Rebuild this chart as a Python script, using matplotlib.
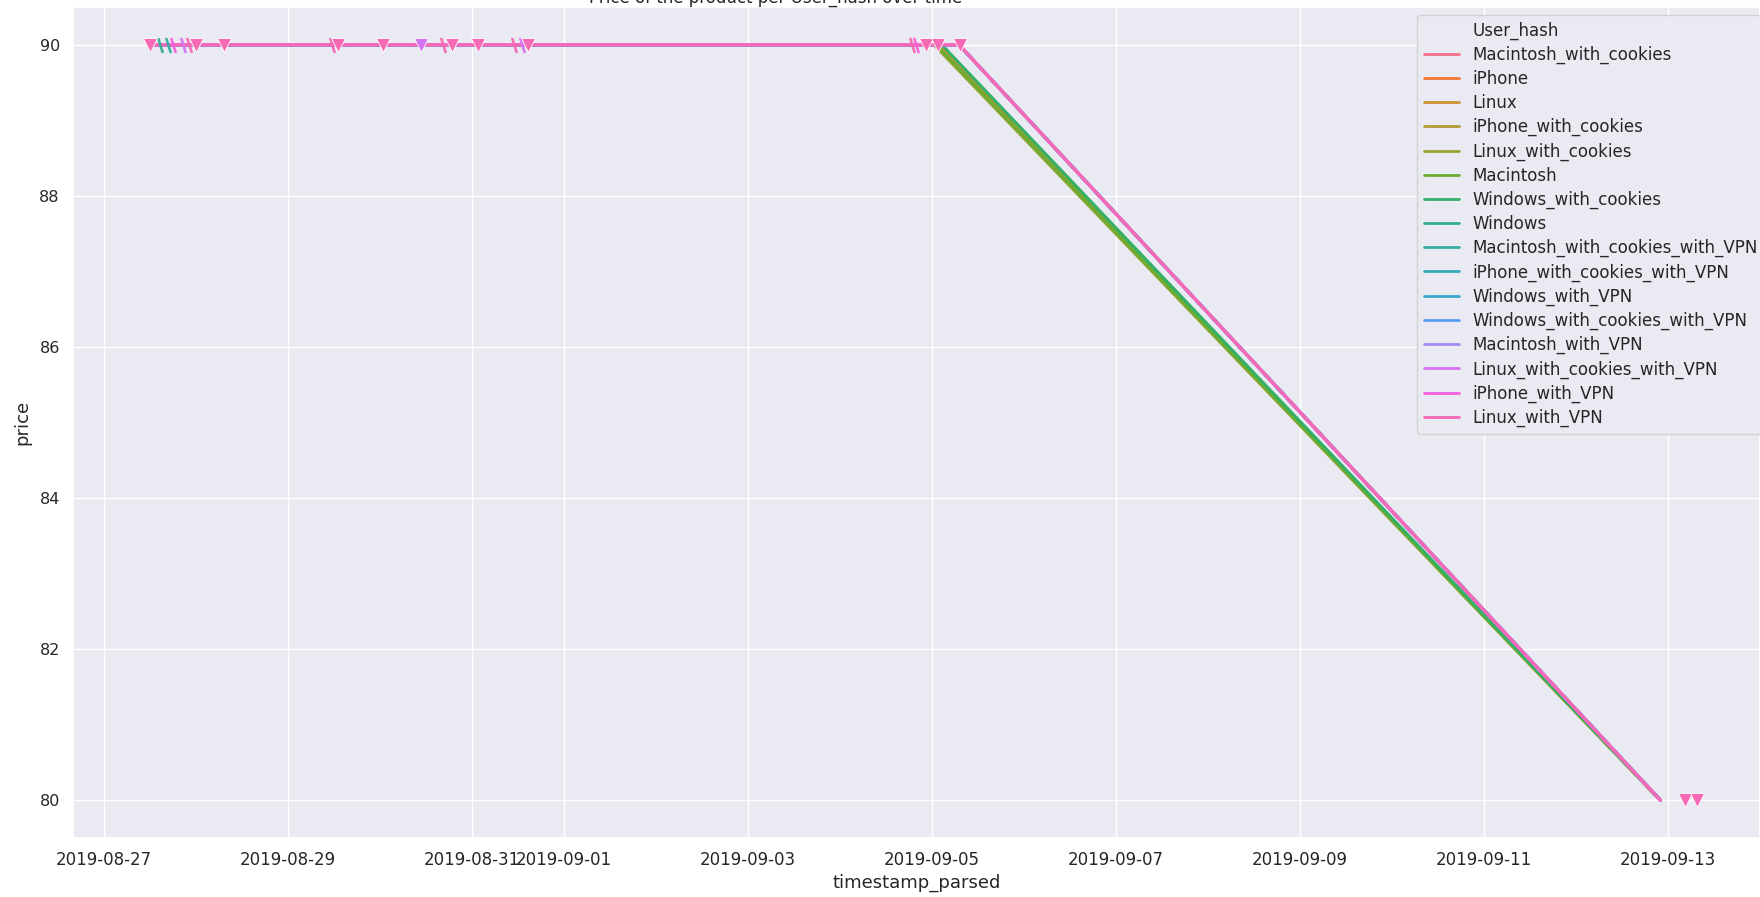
import pandas as pd
import seaborn as sns
from matplotlib import pyplot as plt
from matplotlib.lines import Line2D

sns.set_theme(style='darkgrid')

user_hashes = ['Macintosh_with_cookies', 'iPhone', 'Linux', 'iPhone_with_cookies',
               'Linux_with_cookies', 'Macintosh', 'Windows_with_cookies', 'Windows',
               'Macintosh_with_cookies_with_VPN', 'iPhone_with_cookies_with_VPN',
               'Windows_with_VPN', 'Windows_with_cookies_with_VPN', 'Macintosh_with_VPN',
               'Linux_with_cookies_with_VPN', 'iPhone_with_VPN', 'Linux_with_VPN']

# first visit, last visit at the high price, and the visit at the low price
first_seen = '2019-08-27 12:00'
drop_start = ['2019-09-05 01:00', '2019-09-05 01:30', '2019-09-05 01:30', '2019-09-05 01:00',
              '2019-09-05 00:30', '2019-09-05 01:00', '2019-09-05 02:30', '2019-09-05 07:00',
              '2019-09-05 07:00', '2019-09-05 07:00', '2019-09-05 07:00', '2019-09-05 07:00',
              '2019-09-05 07:00', '2019-09-05 07:00', '2019-09-05 07:00', '2019-09-05 07:00']
last_seen = '2019-09-12 22:00'
high_price = 90
low_price = 80

# visits marked with triangles (Linux_with_VPN)
tri_times = ['2019-08-27 12:00', '2019-08-28 00:00', '2019-08-28 07:10', '2019-08-29 13:00',
             '2019-08-30 00:45', '2019-08-30 18:40', '2019-08-31 01:30', '2019-08-31 14:40',
             '2019-09-04 22:30', '2019-09-05 01:30', '2019-09-05 07:10']
tri_prices = [90] * 11
tri_low_times = ['2019-09-13 04:30', '2019-09-13 07:40']
tri_low_prices = [80, 80]
violet_time = ['2019-08-30 10:40']
# other visits (thin slash markers)
slash_times = ['2019-08-27 14:30', '2019-08-27 16:30', '2019-08-27 18:00', '2019-08-27 20:30',
               '2019-08-27 22:00', '2019-08-29 11:30', '2019-08-30 16:20', '2019-08-31 11:00',
               '2019-08-31 13:00', '2019-09-04 18:50', '2019-09-04 19:40']
slash_hash = [7, 8, 14, 13, 15, 15, 15, 15, 13, 15, 14]

colors = sns.color_palette('husl', len(user_hashes))

fig = plt.figure(figsize=(17.6, 8.97), dpi=100)
ax = fig.add_axes([73 / 1760, 1 - 838 / 897, 1 - 73 / 1760, 831 / 897])

for i, h in enumerate(user_hashes):
    t = pd.to_datetime([first_seen, drop_start[i], last_seen])
    p = [high_price, high_price, low_price]
    ax.plot(t, p, color=colors[i], linewidth=2.2, label=h)

for k, t in enumerate(slash_times):
    ax.plot(pd.to_datetime([t]), [high_price], linestyle='none', marker=r'$\backslash$',
            markersize=10, color=colors[slash_hash[k]], alpha=0.85)
ax.plot(pd.to_datetime(tri_times), tri_prices, linestyle='none', marker='v', markersize=10,
        color=colors[15], markeredgecolor='white', markeredgewidth=0.6)
ax.plot(pd.to_datetime(violet_time), [high_price], linestyle='none', marker='v', markersize=10,
        color=colors[13], markeredgecolor='white', markeredgewidth=0.6)
ax.plot(pd.to_datetime(tri_low_times), tri_low_prices, linestyle='none', marker='v',
        markersize=10, color=colors[15], markeredgecolor='white', markeredgewidth=0.6)

ax.set_xlim(pd.Timestamp('2019-08-26 15:50'), pd.Timestamp('2019-09-14 00:00'))
ax.set_ylim(79.5, 90.5)
ticks = pd.to_datetime(['2019-08-27', '2019-08-29', '2019-08-31', '2019-09-01', '2019-09-03',
                        '2019-09-05', '2019-09-07', '2019-09-09', '2019-09-11', '2019-09-13'])
ax.set_xticks(ticks)
ax.set_xticklabels([d.strftime('%Y-%m-%d') for d in ticks], fontsize=12)
ax.set_yticks([80, 82, 84, 86, 88, 90])
ax.set_yticklabels(['80', '82', '84', '86', '88', '90'], fontsize=11.5)
ax.set_xlabel('timestamp_parsed', fontsize=13, labelpad=3)
ax.set_ylabel('price', fontsize=13, labelpad=6)

handles = [Line2D([], [], color='none')] + [Line2D([], [], color=c, linewidth=2) for c in colors]
labels = ['User_hash'] + user_hashes
ax.legend(handles, labels, loc='upper left', bbox_to_anchor=(1417 / 1760, 1 - 15 / 897),
          bbox_transform=fig.transFigure, borderaxespad=0, fontsize=12, frameon=True,
          labelspacing=0.36, handlelength=2.1, handletextpad=0.8, borderpad=0.4)

fig.text(776 / 1760, 1 - 2.5 / 897, 'Price of the product per User_hash over time',
         ha='center', va='baseline', fontsize=12)

plt.savefig('out.png', dpi=100)
